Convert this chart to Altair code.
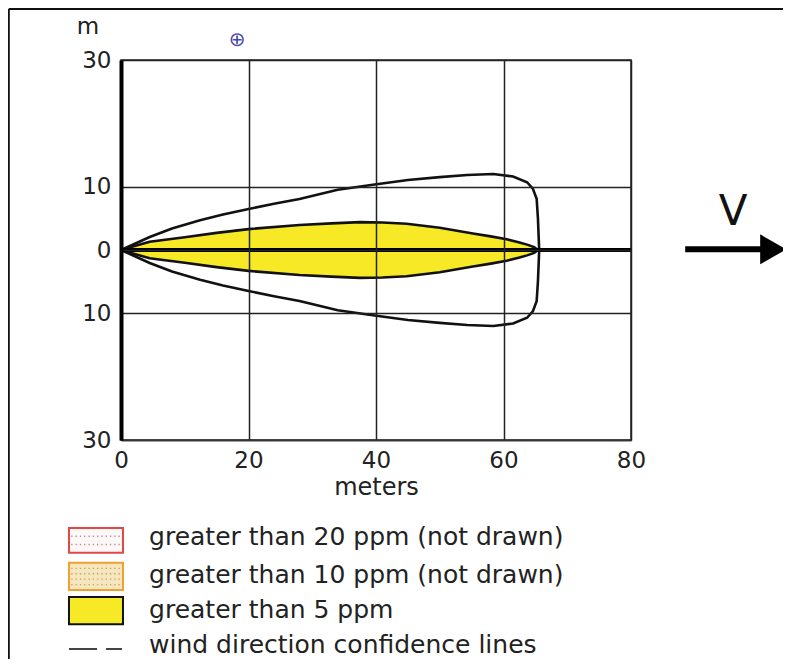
import altair as alt
import pandas as pd

# ---------------- data ----------------
X_TICKS = [0, 20, 40, 60, 80]
Y_TICKS = [-30, -10, 0, 10, 30]

# >5 ppm threat zone, upper half-width (m) along downwind distance (m)
PLUME_X = [0, 2, 4.5, 10, 15, 20, 28, 33, 37.5, 41, 44.8, 50, 55.2, 58, 60.5, 62.5, 63.7, 64.8, 65.4]
PLUME_Y = [0, 0.6, 1.3, 2.0, 2.7, 3.3, 3.95, 4.2, 4.4, 4.35, 4.15, 3.5, 2.6, 2.15, 1.7, 1.2, 0.85, 0.45, 0]

# wind direction confidence lines, upper half (m)
CONF_X = [0, 2, 4.5, 8, 12.4, 16, 20.2, 24, 28, 34, 39.5, 45, 50, 54.3, 58.4, 61.5, 63.7, 64.6, 65.2, 65.4, 65.6]
CONF_Y = [0, 0.9, 2.05, 3.4, 4.7, 5.6, 6.5, 7.3, 8.05, 9.5, 10.3, 11.05, 11.5, 11.85, 12.0, 11.6, 10.7, 9.7, 8.1, 5.0, 0]

LEGEND_LABELS = [
    "greater than 20 ppm (not drawn)",
    "greater than 10 ppm (not drawn)",
    "greater than 5 ppm",
    "wind direction confidence lines",
]
LEGEND_TEXT_Y = [-45.3, -51.3, -56.8, -62.4]
LEGEND_BOX_TOP = [-43.9, -49.4, -54.8]
LEGEND_BOX_BOTTOM = [-47.8, -53.7, -59.1]
LEGEND_BOX_X = [-8.16, 0.31]
LEGEND_TEXT_X = 4.4
LEGEND_DASH_X = [[-8.16, -3.76], [-2.35, 0.16]]
LEGEND_DASH_Y = -63.0

# ---------------- styles ----------------
YELLOW = "#f7e926"
FONT = "DejaVu Sans"
TXT = "#222222"
BOX_FILL = ["#fdf8f8", "#f5e6bd", YELLOW]
BOX_STROKE = ["#e04848", "#f0a030", "#111111"]
DOT_COLOR = ["#c08a8a", "#c9a060"]

W, H = 510, 380
xs = alt.Scale(domain=[0, 80], nice=False, zero=False)
ys = alt.Scale(domain=[-30, 30], nice=False, zero=False)

X_AXIS = alt.Axis(
    values=X_TICKS, title="meters", grid=True, gridColor="#222", gridWidth=1.5,
    ticks=False, labelPadding=9, labelFontSize=23, labelFont=FONT, labelColor=TXT,
    titleFontSize=24, titleFont=FONT, titleColor=TXT, titleFontWeight="normal", titlePadding=3,
    domainColor="#333", domainWidth=1.5, zindex=1, labelFlush=False)
Y_AXIS = alt.Axis(
    values=Y_TICKS, title=None, grid=True, gridColor="#222", gridWidth=1.5,
    ticks=False, labelPadding=10, labelFontSize=23, labelFont=FONT, labelColor=TXT,
    labelExpr="abs(datum.value)", domainColor="#000", domainWidth=4, zindex=1,
    labelFlush=False)


def X(f):
    return alt.X(f, scale=xs, axis=X_AXIS)


def Y(f):
    return alt.Y(f, scale=ys, axis=Y_AXIS)


def polygon(xv, yv):
    pts = list(zip(xv, yv)) + [(x, -y) for x, y in reversed(list(zip(xv, yv)))]
    return pd.DataFrame({"x": [p[0] for p in pts], "y": [p[1] for p in pts], "o": range(len(pts))})


plume_df = pd.DataFrame({"x": PLUME_X, "up": PLUME_Y, "lo": [-v for v in PLUME_Y]})
plume_poly = polygon(PLUME_X, PLUME_Y)
conf_poly = polygon(CONF_X, CONF_Y)

area = alt.Chart(plume_df).mark_area(color=YELLOW, opacity=1).encode(
    x=X("x:Q"), y=Y("up:Q"), y2="lo:Q")

plume_line = alt.Chart(plume_poly).mark_line(color="#111", strokeWidth=2.6).encode(
    x=X("x:Q"), y=Y("y:Q"), order="o:Q")

conf_line = alt.Chart(conf_poly).mark_line(color="#111", strokeWidth=2.6).encode(
    x=X("x:Q"), y=Y("y:Q"), order="o:Q")

center = alt.Chart(pd.DataFrame({"x": [0], "x2": [80], "y": [0]})).mark_rule(
    color="#000", strokeWidth=4).encode(x=X("x:Q"), x2="x2:Q", y=Y("y:Q"))

# wind arrow + label
arrow_shaft = alt.Chart(pd.DataFrame({"x": [88.5], "x2": [101.0], "y": [0.1]})).mark_rule(
    color="#000", strokeWidth=6).encode(x=X("x:Q"), x2="x2:Q", y=Y("y:Q"))
arrow_head = alt.Chart(pd.DataFrame({"x": [102.3], "y": [0.1]})).mark_point(
    shape="triangle-right", size=900, filled=True, color="#000", opacity=1).encode(
    x=X("x:Q"), y=Y("y:Q"))
v_text = alt.Chart(pd.DataFrame({"x": [96.0], "y": [6.0], "t": ["V"]})).mark_text(
    fontSize=42, font=FONT, color="#111", baseline="middle", align="center").encode(
    x=X("x:Q"), y=Y("y:Q"), text="t:N")

m_text = alt.Chart(pd.DataFrame({"x": [-5.2], "y": [35.2], "t": ["m"]})).mark_text(
    fontSize=23, font=FONT, color=TXT, baseline="middle", align="center").encode(
    x=X("x:Q"), y=Y("y:Q"), text="t:N")

compass = alt.Chart(pd.DataFrame({"x": [18.2], "y": [33.2], "t": ["\u2295"]})).mark_text(
    fontSize=20, font=FONT, color="#4646a6", baseline="middle", align="center").encode(
    x=X("x:Q"), y=Y("y:Q"), text="t:N")

# legend
box_df = pd.DataFrame({
    "x": [LEGEND_BOX_X[0]] * 3, "x2": [LEGEND_BOX_X[1]] * 3,
    "y": LEGEND_BOX_TOP, "y2": LEGEND_BOX_BOTTOM, "k": ["a", "b", "c"]})
boxes = alt.Chart(box_df).mark_rect(strokeWidth=2).encode(
    x=X("x:Q"), x2="x2:Q", y=Y("y:Q"), y2="y2:Q",
    fill=alt.Fill("k:N", scale=alt.Scale(domain=["a", "b", "c"], range=BOX_FILL), legend=None),
    stroke=alt.Stroke("k:N", scale=alt.Scale(domain=["a", "b", "c"], range=BOX_STROKE), legend=None),
)

dot_rows = []
for i, n in enumerate([2, 4]):
    top, bot = LEGEND_BOX_TOP[i], LEGEND_BOX_BOTTOM[i]
    for j in range(n):
        yy = top + (bot - top) * (j + 1) / (n + 1)
        dot_rows.append({"x": LEGEND_BOX_X[0] + 0.35, "x2": LEGEND_BOX_X[1] - 0.35, "y": yy, "k": "ab"[i]})
dots = alt.Chart(pd.DataFrame(dot_rows)).mark_rule(strokeWidth=1.3, strokeDash=[1.3, 3]).encode(
    x=X("x:Q"), x2="x2:Q", y=Y("y:Q"),
    color=alt.Color("k:N", scale=alt.Scale(domain=["a", "b"], range=DOT_COLOR), legend=None))

dash_df = pd.DataFrame({"x": [d[0] for d in LEGEND_DASH_X], "x2": [d[1] for d in LEGEND_DASH_X],
                        "y": [LEGEND_DASH_Y] * 2})
dashes = alt.Chart(dash_df).mark_rule(color="#444", strokeWidth=2).encode(
    x=X("x:Q"), x2="x2:Q", y=Y("y:Q"))

leg_text = alt.Chart(pd.DataFrame({"t": LEGEND_LABELS, "y": LEGEND_TEXT_Y,
                                   "x": [LEGEND_TEXT_X] * 4})).mark_text(
    fontSize=25, font=FONT, color=TXT, align="left", baseline="middle").encode(
    x=X("x:Q"), y=Y("y:Q"), text="t:N")

# outer frame (left and top edges of the figure border)
FRAME_LEFT_X = -17.6
FRAME_TOP_Y = 38.05
frame_top = alt.Chart(pd.DataFrame({"x": [FRAME_LEFT_X], "x2": [110], "y": [FRAME_TOP_Y]})).mark_rule(
    color="#111", strokeWidth=2).encode(x=X("x:Q"), x2="x2:Q", y=Y("y:Q"))
frame_left = alt.Chart(pd.DataFrame({"x": [FRAME_LEFT_X], "y": [FRAME_TOP_Y], "y2": [-70]})).mark_rule(
    color="#111", strokeWidth=2).encode(x=X("x:Q"), y=Y("y:Q"), y2="y2:Q")

chart = alt.layer(
    area, plume_line, conf_line, center, arrow_shaft, arrow_head, v_text, m_text, compass,
    boxes, dots, dashes, leg_text, frame_top, frame_left,
).properties(
    width=W, height=H,
    autosize=alt.AutoSizeParams(type="none"),
    padding={"left": 113, "top": 52, "right": 152, "bottom": 219},
    background="white",
).configure_view(stroke="#222", strokeWidth=1.5)

chart.save("out.html", embed_options={"renderer": "svg", "actions": False})
